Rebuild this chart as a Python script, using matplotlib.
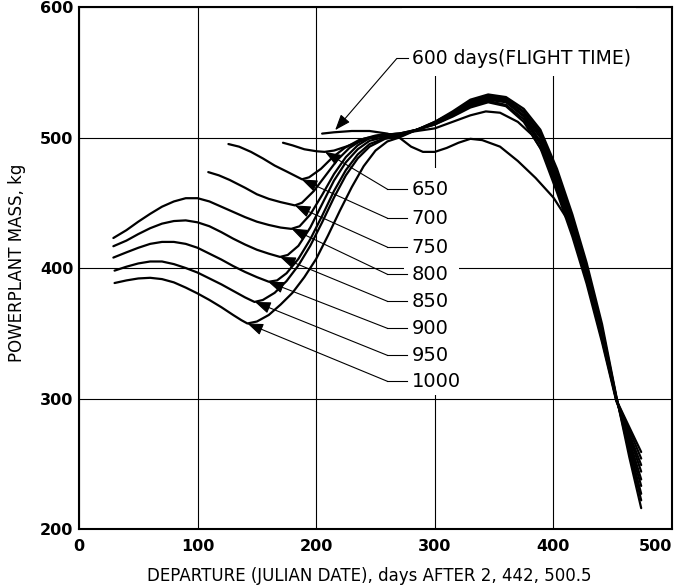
import matplotlib
matplotlib.use('Agg')
import matplotlib.pyplot as plt
from matplotlib.patches import Rectangle

plt.rcParams['font.family'] = ['DejaVu Sans']

# common x positions for the merged part of the 700..1000 day curves
TAIL_X = [270, 285, 300, 315, 330, 345, 360, 375, 389, 403, 416, 428, 441, 453, 464, 474]

# flight time curves (departure day, powerplant mass kg)
x_600 = [205, 215, 230, 245, 260, 270, 280, 290, 300, 310, 320, 330, 340, 355, 370, 385,
         400, 412, 428, 441, 453, 464, 474]
y_600 = [503, 504, 505, 505, 503, 500, 493, 489, 489, 492, 496, 499, 498, 493, 482, 469,
         454, 437, 394, 348, 299, 278, 259]

x_650 = [172, 180, 190, 200, 207, 215, 225, 237, 254, 270, 285, 300, 315, 330, 343, 355,
         370, 382, 395, 405, 416, 428, 441, 453, 464, 474]
y_650 = [496, 494, 491, 489.5, 489, 490, 493, 497, 502, 503, 505, 507, 512, 517, 520, 519,
         512, 502, 483, 462, 432, 395, 349, 299, 276, 254]

x_700 = [126, 135, 145, 155, 165, 175, 188, 194, 204, 214, 224, 236, 250] + TAIL_X
y_700 = [495, 493, 489, 484, 478.5, 474, 468, 469.5, 476, 485, 492, 498, 501.5,
         503, 506, 510, 516, 523, 527, 524, 512, 492, 458, 424, 388, 343, 298, 273, 249]

x_750 = [109, 118, 127, 140, 150, 160, 170, 182, 188, 198, 208, 218, 228, 240, 255] + TAIL_X
y_750 = [473.5, 471, 467.5, 461.5, 456.5, 453, 450.5, 448, 450, 459, 471, 483, 492, 499, 502,
         503, 506, 510, 517, 524, 528, 525, 514, 495, 461, 427, 391, 345, 299, 271, 244]

x_800 = [29, 40, 50, 60, 70, 80, 90, 100, 110, 120, 130, 140, 150, 160, 170, 179, 186,
         195, 205, 215, 225, 235, 245, 258] + TAIL_X
y_800 = [423, 429, 435.5, 441.5, 447, 451, 453.5, 453.5, 451, 447, 443, 439, 435.5, 433,
         431, 430, 432, 441, 456, 472, 485, 494, 499.5, 501.5,
         502, 506, 511, 517, 525, 529, 527, 516, 497, 464, 429, 393, 348, 300, 268, 238]

x_850 = [29, 40, 50, 60, 70, 80, 90, 100, 110, 120, 130, 140, 150, 160, 169.5, 176, 185,
         195, 205, 215, 225, 235, 245, 258] + TAIL_X
y_850 = [416.7, 421, 426, 430.5, 434, 436, 436.5, 435, 432, 427.5, 422.5, 418, 414, 411,
         408.5, 410, 417, 431, 449, 467, 481, 491, 497.5, 500.5,
         502, 506, 511, 518, 526, 530, 528, 517, 500, 467, 432, 396, 350, 300, 265, 233]

x_900 = [29, 40, 50, 60, 70, 80, 90, 100, 110, 120, 130, 140, 150, 160, 167, 175, 185,
         195, 205, 215, 225, 235, 245, 258] + TAIL_X
y_900 = [408, 412, 415.5, 418.5, 420, 420, 418.5, 415.5, 411, 406.5, 401.5, 397, 393,
         389.5, 390.5, 396, 407, 422, 440, 459, 475, 487, 495, 499.5,
         501, 506, 511, 518, 527, 531, 529, 519, 502, 470, 435, 399, 352, 301, 262, 227]

x_950 = [30, 40, 50, 60, 70, 80, 90, 100, 110, 120, 130, 140, 148, 155, 165, 175, 185,
         195, 205, 215, 225, 235, 245, 258] + TAIL_X
y_950 = [398, 401, 403.5, 405, 405, 403, 400, 396.5, 392, 387.5, 382.5, 377.5, 374, 375.5,
         381, 390, 402, 417, 435, 454, 471, 484, 493, 499,
         501, 506, 512, 519, 528, 532, 530, 520, 504, 473, 438, 401, 354, 301, 259, 222]

x_1000 = [30, 40, 50, 60, 70, 80, 90, 100, 110, 120, 130, 137, 142, 150, 160, 170, 180,
          190, 200, 210, 220, 230, 240, 250, 260] + TAIL_X
y_1000 = [388.5, 390.5, 392, 392.5, 391.5, 389, 385, 380.5, 375.5, 370, 364, 360, 357.5,
          359, 364, 372, 381, 393, 407, 425, 444, 462, 478, 490, 497,
          500, 506, 512, 520, 529, 533, 531, 522, 506, 476, 441, 404, 357, 302, 255, 216]

# labelled flight times, where each arrow points, and label heights
LABELS = ['650', '700', '750', '800', '850', '900', '950', '1000']
TIP_X = [207.4, 187.7, 182, 179, 169.5, 159.6, 148.4, 142]
TIP_Y = [489, 467.9, 448, 430.3, 408.5, 389.4, 374, 357.5]
LABEL_Y = [460.4, 438.2, 416, 395.2, 374.5, 353.8, 333.1, 313.2]

fig = plt.figure(figsize=(6.75, 5.85), dpi=100)
ax = fig.add_axes([0.117, 0.0957, 0.8786, 0.8923])

ax.set_xlim(0, 500)
ax.set_ylim(200, 600)
ax.set_xticks([0, 100, 200, 300, 400, 500])
ax.set_yticks([200, 300, 400, 500, 600])
ax.set_axisbelow(True)
ax.grid(True, color='black', linewidth=0.8)
for s in ax.spines.values():
    s.set_linewidth(1.5)
ax.tick_params(length=0, labelsize=11.5)
ax.tick_params(axis='x', pad=7)
ax.tick_params(axis='y', pad=4)
for lab in ax.get_xticklabels() + ax.get_yticklabels():
    lab.set_fontweight('bold')
ax.get_xticklabels()[-1].set_horizontalalignment('right')

# blank areas behind the annotations (grid is cut there in the original)
ax.add_patch(Rectangle((272, 547), 198, 53, facecolor='white', edgecolor='none', zorder=1))
ax.add_patch(Rectangle((274, 302.5), 46, 174, facecolor='white', edgecolor='none', zorder=1))

curves = [(x_600, y_600), (x_650, y_650), (x_700, y_700), (x_750, y_750), (x_800, y_800),
          (x_850, y_850), (x_900, y_900), (x_950, y_950), (x_1000, y_1000)]
for xs, ys in curves:
    ax.plot(xs, ys, color='black', linewidth=1.6, zorder=2, solid_capstyle='round')

arrow = dict(arrowstyle='-|>,head_length=0.8,head_width=0.3', color='black', lw=0.8,
             shrinkA=0, shrinkB=0, mutation_scale=12)

# 600 days label at the top
ax.plot([268, 277.5], [560.6, 560.6], color='black', lw=0.8, zorder=3)
ax.annotate('', xy=(216, 505.7), xytext=(268, 560.6), arrowprops=arrow, zorder=3)
ax.text(280.5, 560.6, '600 days(FLIGHT TIME)', fontsize=13.5, va='center', ha='left', zorder=4)

for lab, tx, ty, ly in zip(LABELS, TIP_X, TIP_Y, LABEL_Y):
    ax.plot([260, 276.5], [ly, ly], color='black', lw=0.8, zorder=3)
    ax.annotate('', xy=(tx, ty), xytext=(260, ly), arrowprops=arrow, zorder=3)
    ax.text(280.5, ly, lab, fontsize=14, va='center', ha='left', zorder=4)

ax.set_xlabel('DEPARTURE (JULIAN DATE), days AFTER 2, 442, 500.5', fontsize=12)
ax.set_ylabel('POWERPLANT MASS, kg', fontsize=12)
ax.xaxis.set_label_coords(0.489, -0.072)
ax.yaxis.set_label_coords(-0.089, 0.51)

fig.savefig('out.png', dpi=100)
